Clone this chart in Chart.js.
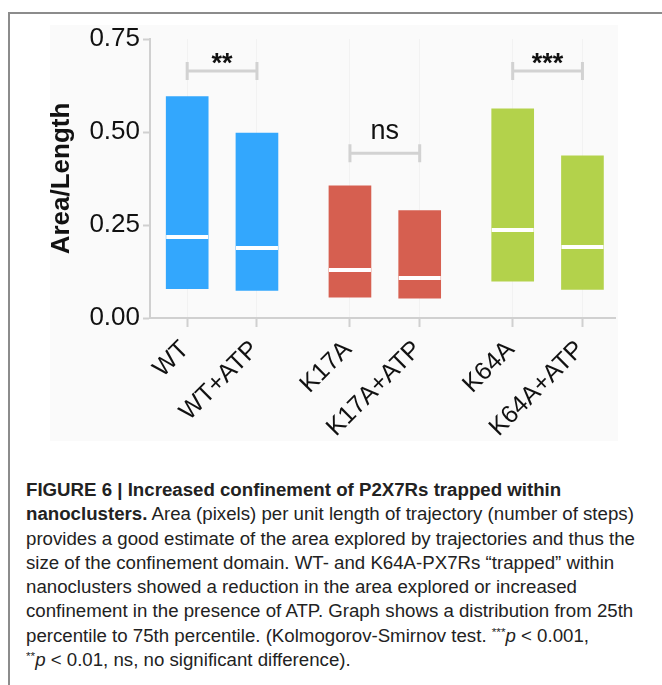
<!DOCTYPE html>
<html>
<head>
<meta charset="utf-8">
<script src="https://cdn.jsdelivr.net/npm/chart.js@4.4.1/dist/chart.umd.min.js"></script>
<style>
  html, body { margin: 0; padding: 0; background: #fff; }
  body { width: 662px; height: 685px; position: relative; overflow: hidden; font-family: "Liberation Sans", Arial, sans-serif; }
  #frame { position: absolute; left: 8px; top: 12px; width: 670px; height: 690px; border-left: 2px solid #8c8c8c; border-top: 2px solid #8c8c8c; }
  #plotBg { position: absolute; left: 50px; top: 25px; width: 568px; height: 416px; background: #fafafa; }
  #chartBox { position: absolute; left: 0; top: 0; width: 662px; height: 450px; }
  #caption { position: absolute; left: 26px; top: 478px; font-family: "Liberation Sans Narrow", "Liberation Sans", Arial, sans-serif; font-size: 17.5px; line-height: 24.3px; color: #222; white-space: nowrap; transform-origin: 0 0; }
  #caption div { display: block; }
  #caption span.ln { display: inline-block; }
  #caption sup { font-size: 11px; vertical-align: 6px; line-height: 0; }
</style>
</head>
<body>
<div id="frame"></div>
<div id="plotBg"></div>
<div id="chartBox"><canvas id="chart" width="662" height="450"></canvas></div>
<div id="caption">
  <div><span class="ln"><b>FIGURE 6 | Increased confinement of P2X7Rs trapped within</b></span></div>
  <div><span class="ln"><b>nanoclusters.</b> Area (pixels) per unit length of trajectory (number of steps)</span></div>
  <div><span class="ln" id="refLine">provides a good estimate of the area explored by trajectories and thus the</span></div>
  <div><span class="ln">size of the confinement domain. WT- and K64A-PX7Rs “trapped” within</span></div>
  <div><span class="ln">nanoclusters showed a reduction in the area explored or increased</span></div>
  <div><span class="ln">confinement in the presence of ATP. Graph shows a distribution from 25th</span></div>
  <div><span class="ln">percentile to 75th percentile. (Kolmogorov-Smirnov test. <sup>***</sup><i>p</i> &lt; 0.001,</span></div>
  <div><span class="ln"><sup>**</sup><i>p</i> &lt; 0.01, ns, no significant difference).</span></div>
</div>
<script>
// conditions, in plot order
const labels = ["WT", "WT+ATP", "K17A", "K17A+ATP", "K64A", "K64A+ATP"];
// slot on the x axis: pairs sit closer together than groups
const xPos = [0, 3, 7, 10, 14, 17];

// 25th percentile, 75th percentile, median (Area/Length)
const q25 = [0.079, 0.074, 0.056, 0.053, 0.099, 0.077];
const q75 = [0.595, 0.497, 0.355, 0.289, 0.562, 0.436];
const median = [0.217, 0.189, 0.128, 0.108, 0.237, 0.190];

const barColors = ["#33a7fd", "#33a7fd", "#d65f50", "#d65f50", "#b3d24b", "#b3d24b"];

// significance brackets
const sigFrom = [0, 2, 4];
const sigTo = [1, 3, 5];
const sigLevel = [0.664, 0.443, 0.664];
const sigText = ["**", "ns", "***"];

const yTicks = [0, 0.25, 0.5, 0.75];

// fit caption to the condensed width of the original
const refW = document.getElementById("refLine").getBoundingClientRect().width;
document.getElementById("caption").style.transform = "scaleX(" + (609 / refW) + ")";

const overlay = {
  id: "overlay",
  afterDatasetsDraw(chart) {
    const { ctx, scales: { x, y } } = chart;
    const bars = chart.getDatasetMeta(0).data;
    ctx.save();
    // medians
    ctx.strokeStyle = "#ffffff";
    ctx.lineWidth = 4;
    bars.forEach((bar, i) => {
      const yy = Math.round(y.getPixelForValue(median[i]));
      ctx.beginPath();
      ctx.moveTo(bar.x - bar.width / 2, yy);
      ctx.lineTo(bar.x + bar.width / 2, yy);
      ctx.stroke();
    });
    // brackets
    sigText.forEach((t, k) => {
      const x1 = x.getPixelForValue(xPos[sigFrom[k]]);
      const x2 = x.getPixelForValue(xPos[sigTo[k]]);
      const yy = y.getPixelForValue(sigLevel[k]);
      ctx.strokeStyle = "#d2d2d2";
      ctx.lineWidth = 3;
      ctx.beginPath();
      ctx.moveTo(x1, yy - 9); ctx.lineTo(x1, yy + 9);
      ctx.moveTo(x2, yy - 9); ctx.lineTo(x2, yy + 9);
      ctx.moveTo(x1, yy); ctx.lineTo(x2, yy);
      ctx.stroke();
      ctx.fillStyle = "#111";
      ctx.textAlign = "center";
      ctx.textBaseline = "alphabetic";
      if (t === "ns") {
        ctx.font = '27px "Liberation Sans", Arial, sans-serif';
        ctx.fillText(t, (x1 + x2) / 2, yy - 14);
      } else {
        ctx.font = 'bold 27px "Liberation Sans", Arial, sans-serif';
        ctx.fillText(t, (x1 + x2) / 2, yy + 1);
      }
    });
    ctx.restore();
  }
};

new Chart(document.getElementById("chart"), {
  type: "bar",
  data: {
    datasets: [{
      data: labels.map((l, i) => ({ x: xPos[i], y: [q25[i], q75[i]] })),
      backgroundColor: barColors,
      borderWidth: 0,
      borderSkipped: false,
      barThickness: 42
    }]
  },
  options: {
    responsive: false,
    animation: false,
    layout: { padding: { left: 40, right: 47, top: 39, bottom: 6 } },
    plugins: { legend: { display: false }, tooltip: { enabled: false } },
    scales: {
      x: {
        type: "linear",
        min: -1.6,
        max: 18.4,
        offset: false,
        afterBuildTicks: (s) => { s.ticks = xPos.map(v => ({ value: v })); },
        afterFit: (s) => { s.height = 126; },
        ticks: {
          autoSkip: false,
          minRotation: 45,
          maxRotation: 45,
          padding: 8,
          labelOffset: -2,
          color: "#111",
          font: { size: 25, family: '"Liberation Sans", Arial, sans-serif' },
          callback: (v) => labels[xPos.indexOf(v)]
        },
        grid: { offset: false, color: "rgba(0,0,0,0.03)", tickColor: "#d0d0d0", tickLength: 9, tickWidth: 2 },
        border: { color: "#d0d0d0", width: 2 }
      },
      y: {
        min: 0,
        max: 0.75,
        afterBuildTicks: (s) => { s.ticks = yTicks.map(v => ({ value: v })); },
        afterFit: (s) => { s.width = 110; },
        ticks: {
          padding: 3,
          color: "#111",
          font: { size: 26, family: '"Liberation Sans", Arial, sans-serif' },
          callback: (v) => v.toFixed(2)
        },
        grid: { drawOnChartArea: false, tickColor: "#d0d0d0", tickLength: 7, tickWidth: 2 },
        border: { color: "#d0d0d0", width: 2 },
        title: {
          display: true,
          text: "Area/Length",
          color: "#111",
          padding: { top: 6, bottom: 0 },
          font: { size: 26, weight: "bold", family: '"Liberation Sans", Arial, sans-serif' }
        }
      }
    }
  },
  plugins: [overlay]
});
</script>
</body>
</html>
